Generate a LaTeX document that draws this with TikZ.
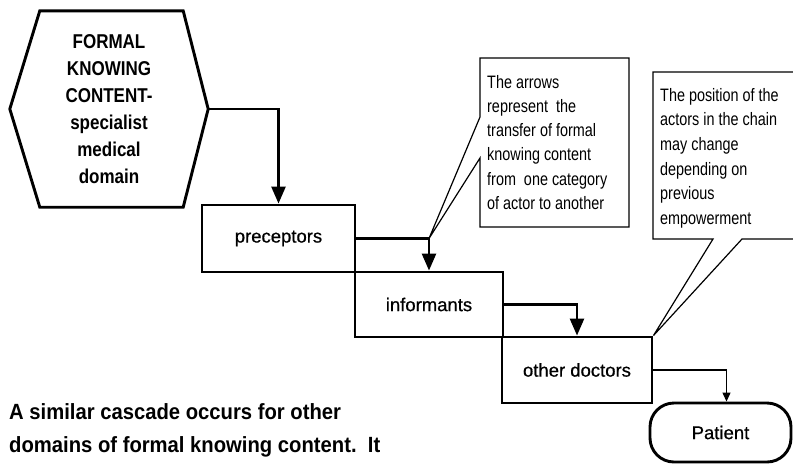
\documentclass[tikz,border=0pt]{standalone}
\usepackage{fontspec}
\setmainfont{Liberation Sans}
\newfontfamily\labelfont[FakeBold=0.6]{Liberation Sans}
\newfontfamily\narrowfont[FakeStretch=0.8]{Liberation Sans}
\newfontfamily\hexfont[FakeStretch=0.85]{Liberation Sans}
\newfontfamily\notefont[FakeStretch=0.92]{Liberation Sans}
\usetikzlibrary{arrows.meta,calc}

\tikzset{
  actor/.style={draw, line width=2.9pt, inner sep=0pt,
    font=\labelfont\fontsize{18.5}{22}\selectfont},
  flow/.style={line width=2.6pt, -{Triangle[length=17pt,width=14pt]}},
  thinflow/.style={line width=1.2pt, -{Triangle[length=9pt,width=8pt]}},
  balloon/.style={line width=1.2pt, line join=miter},
  balloontext/.style={anchor=north west, inner sep=0pt, align=left,
    font=\narrowfont\fontsize{18}{24.2}\selectfont},
}

\begin{document}
\begin{tikzpicture}[x=1pt,y=-1pt]
  \useasboundingbox (0,0) rectangle (793,467);
  \clip (0,0) rectangle (793,467);

  % source of formal knowing content
  \node[align=center, inner sep=0pt, minimum width=198, minimum height=196,
        font=\hexfont\bfseries\fontsize{20}{27}\selectfont]
        (hex) at (109,109)
        {FORMAL\\KNOWING\\CONTENT-\\specialist\\medical\\domain};
  \draw[line width=2.9pt, line join=miter]
    ($(hex.north west)+(30,0)$) -- ($(hex.north east)+(-25,0)$) -- (hex.east)
    -- ($(hex.south east)+(-25,0)$) -- ($(hex.south west)+(30,0)$) -- (hex.west)
    -- cycle;

  % the cascade of actors
  \node[actor, minimum width=153, minimum height=67] (prec) at (278.5,238.5) {preceptors};
  \node[actor, minimum width=148, minimum height=65] (inf)  at (429,304.5) {informants};
  \node[actor, minimum width=150, minimum height=66] (doc)  at (577,370) {other doctors};
  \node[actor, minimum width=141, minimum height=59, rounded corners=24pt]
        (pat) at (720.5,432.5) {Patient};

  % transfers between categories
  \draw[flow] (hex.east) -| (prec.north);
  \draw[flow] (prec.east) -| (inf.north);
  \draw[flow] (inf.east) -| (doc.north);
  \draw[thinflow] (doc.east) -| ($(pat.north)+(6,0)$);

  % first balloon, pointing at the bend of the second arrow
  \coordinate (bend) at (inf.north |- prec.east);
  \draw[balloon] (480,58) -- (629,58) -- (629,227) -- (480,227) -- (480,158)
    -- (bend) -- (480,117) -- cycle;
  \node[balloontext] (note1) at (487,75)
    {The arrows\\represent\ \ the\\transfer of formal\\knowing content\\from\ \ one category\\of actor to another};

  % second balloon, pointing at the corner of the other doctors box
  \draw[balloon] (653,72) -- (805,72) -- (805,239) -- (742,239) -- (doc.north east)
    -- (713,239) -- (653,239) -- cycle;
  \node[balloontext, font=\narrowfont\fontsize{18}{24.6}\selectfont] (note2) at (660,88)
    {The position of the\\actors in the chain\\may change\\depending on\\previous\\empowerment};

  % closing remark
  \node[anchor=west, inner sep=0pt, align=left,
        font=\notefont\bfseries\fontsize{22}{32.5}\selectfont] (remark) at (9,430.5)
    {A similar cascade occurs for other\\domains of formal knowing content.\ \ It};
\end{tikzpicture}
\end{document}
